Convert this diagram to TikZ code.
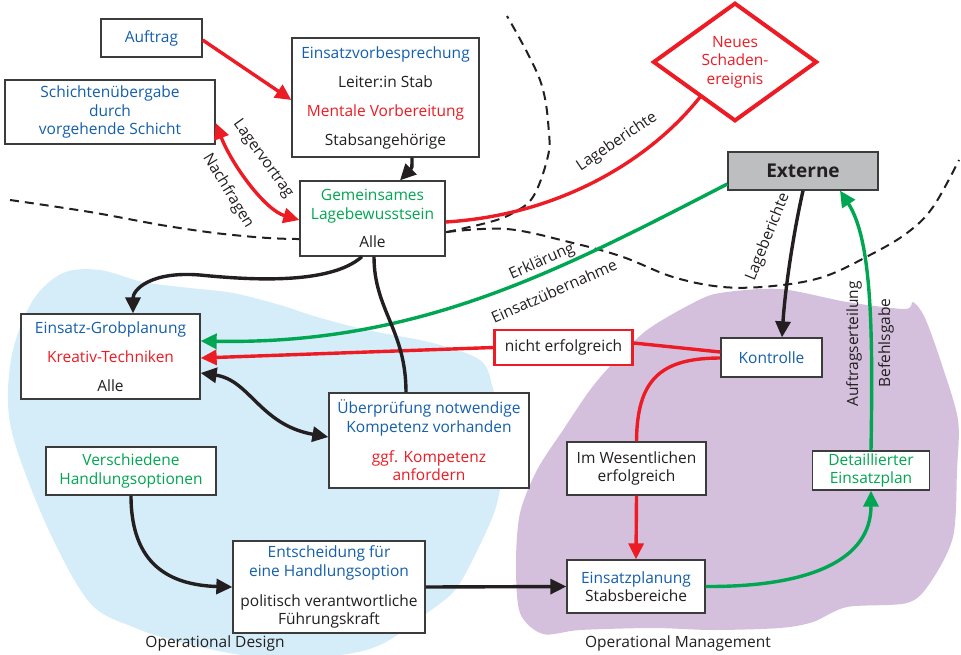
\documentclass[tikz,border=0pt]{standalone}
\usepackage{fontspec}
\setmainfont{Open Sans}
\usetikzlibrary{arrows.meta,shapes.geometric}
\definecolor{tblue}{RGB}{20,95,172}
\definecolor{tred}{RGB}{237,28,36}
\definecolor{tgreen}{RGB}{0,166,81}
\definecolor{tblack}{RGB}{35,31,32}
\definecolor{boxgray}{RGB}{60,60,60}
\definecolor{extgray}{RGB}{188,190,192}
\definecolor{lblue}{RGB}{213,236,249}
\definecolor{lpurple}{RGB}{212,192,221}
\newcommand{\txtb}[1]{\textcolor{tblue}{#1}}
\newcommand{\txtr}[1]{\textcolor{tred}{#1}}
\newcommand{\txtg}[1]{\textcolor{tgreen}{#1}}
\begin{document}
\begin{tikzpicture}[x=1pt,y=-1pt,
  every node/.style={text=tblack},
  base/.style={font=\fontsize{15.5}{18.5}\selectfont},
  box/.style={base,draw=boxgray,line width=1.3pt,fill=white,align=center,inner sep=0pt},
  con/.style={line width=3.4pt},
  tip/.style={-{Triangle[length=16pt,width=15pt]}},
  dtip/.style={{Triangle[length=16pt,width=15pt]}-{Triangle[length=16pt,width=15pt]}},
  lbl/.style={base,inner sep=0pt},
  bnd/.style={line width=2pt,dash pattern=on 9pt off 6pt,tblack}]
\useasboundingbox (0,0) rectangle (961,654);

% regions
\fill[lblue] plot[smooth cycle,tension=0.55] coordinates {
 (100,270) (143,282) (190,288) (233,293) (280,305) (317,317) (367,330) (433,343)
 (480,360) (492,385) (498,420) (502,470) (495,510) (475,555) (455,590) (427,613)
 (380,645) (330,656) (250,656) (180,642) (133,627) (90,603) (50,533) (17,450)
 (8,403) (13,350) (33,300) (63,273)};
\fill[lpurple] plot[smooth cycle,tension=0.5] coordinates {
 (720,293) (780,289) (847,302) (905,309) (913,302) (925,318) (942,365) (958,420)
 (957,470) (953,537) (930,583) (907,603) (847,607) (813,622) (780,628) (713,630)
 (653,628) (580,630) (543,634) (520,613) (516,563) (520,513) (537,470) (563,430)
 (590,390) (613,363) (647,330) (693,303)};

% dashed boundaries
\draw[bnd] plot[smooth,tension=0.6] coordinates {(10,200) (90,212) (167,226) (233,235) (297,239) (370,236) (447,232)};
\draw[bnd] plot[smooth,tension=0.6] coordinates {(447,232) (490,222) (513,213) (533,197) (547,160) (549,133) (540,80) (507,16)};
\draw[bnd] plot[smooth,tension=0.6] coordinates {(447,232) (507,229) (573,243) (623,257) (673,277) (723,287) (773,286) (823,277) (870,255) (907,233) (933,207) (959,160)};

\node[base] at (215,643) {Operational Design};
\node[base] at (678,643) {Operational Management};

% nodes
\node[box,minimum width=101pt,minimum height=38pt] (auftrag) at (151.5,38) {\txtb{Auftrag}};
\node[box,minimum width=187pt,minimum height=119pt] (evb) at (385.5,97.5)
 {\txtb{Einsatzvorbesprechung}\\[10.5pt] Leiter:in Stab\\[10.5pt] \txtr{Mentale Vorbereitung}\\[10.5pt] Stabsangehörige};
\node[box,minimum width=210pt,minimum height=64pt] (schicht) at (110,112)
 {\txtb{Schichtenübergabe}\\ \txtb{durch}\\ \txtb{vorgehende Schicht}};
\node[box,minimum width=145pt,minimum height=75pt] (gem) at (372.5,218.5)
 {\txtg{Gemeinsames}\\ \txtg{Lagebewusstsein}\\[9.5pt] Alle};
\node[diamond,base,draw=tred,line width=4pt,fill=white,minimum width=164pt,minimum height=114pt,inner sep=0pt,align=center] (neu) at (735,62)
 {\txtr{Neues}\\ \txtr{Schaden-}\\ \txtr{ereignis}};
\node[box,fill=extgray,minimum width=150pt,minimum height=38pt,font=\bfseries\fontsize{19}{22}\selectfont] (ext) at (803,171) {Externe};
\node[box,minimum width=179pt,minimum height=85pt] (egp) at (110.5,356.5)
 {\txtb{Einsatz-Grobplanung}\\[10.5pt] \txtr{Kreativ-Techniken}\\[10.5pt] Alle};
\node[box,draw=tred,line width=2.5pt,minimum width=138pt,minimum height=35pt] (nef) at (563.5,347.5) {nicht erfolgreich};
\node[box,minimum width=101pt,minimum height=39pt] (kon) at (771.5,357.5) {\txtb{Kontrolle}};
\node[box,minimum width=200pt,minimum height=95pt] (uep) at (429,440.5)
 {\txtb{Überprüfung notwendige}\\ \txtb{Kompetenz vorhanden}\\[11.5pt] \txtr{ggf. Kompetenz}\\ \txtr{anfordern}};
\node[box,minimum width=170pt,minimum height=48pt] (ver) at (131,471)
 {\txtg{Verschiedene}\\ \txtg{Handlungsoptionen}};
\node[box,minimum width=139pt,minimum height=53pt] (imw) at (636.5,468.5)
 {Im Wesentlichen\\ erfolgreich};
\node[box,minimum width=117pt,minimum height=39pt] (det) at (871,470.5)
 {\txtg{Detaillierter}\\ \txtg{Einsatzplan}};
\node[box,minimum width=192pt,minimum height=92pt] (ent) at (329,587)
 {\txtb{Entscheidung für}\\ \txtb{eine Handlungsoption}\\[11.5pt] politisch verantwortliche\\ Führungskraft};
\node[box,minimum width=138pt,minimum height=53pt] (esp) at (636,586.5)
 {\txtb{Einsatzplanung}\\ Stabsbereiche};

% connectors
\draw[con,tred,tip] ([yshift=-2pt]auftrag.east) -- ([yshift=-2.5pt]evb.west);
\draw[con,tred,dtip] ([yshift=-11pt]schicht.east) .. controls (232,165) and (265,210) .. ([yshift=-1.5pt]gem.west);
\node[lbl,rotate=-54.5] at (263,159) {Lagervortrag};
\node[lbl,rotate=-58.7] at (228,191) {Nachfragen};
\draw[con,tblack,tip] ([xshift=26.5pt]evb.south) .. controls (412,168) .. ([xshift=27.5pt]gem.north);
\draw[con,tred] ([yshift=-3.5pt]gem.east) .. controls (560,215) and (650,160) .. ([xshift=7pt,yshift=-4.5pt]neu.south west);
\node[lbl,rotate=34] at (617,142) {Lageberichte};
\draw[con,tgreen,tip] ([yshift=-13pt]ext.west) .. controls (560,270) and (420,345) .. ([yshift=15.5pt]egp.east);
\node[lbl,rotate=24] at (542,262) {Erklärung};
\node[lbl,rotate=24] at (554,291) {Einsatzübernahme};
\draw[con,tblack,tip] (ext.south) .. controls (793,235) and (785,290) .. ([xshift=10.5pt]kon.north);
\node[lbl,rotate=68] at (768,237) {Lageberichte};
\draw[con,tgreen,tip] (det.north) .. controls (873,330) and (872,240) .. ([xshift=37pt]ext.south);
\node[lbl,rotate=90] at (854,344) {Auftragserteilung};
\node[lbl,rotate=90] at (886,343) {Befehlsgabe};
\draw[con,tred] ([yshift=5.5pt]kon.west) -- ([yshift=4.5pt]nef.east);
\draw[con,tred,tip] (nef.west) -- ([yshift=-1.5pt]egp.east);
\draw[con,tred] ([yshift=-0.5pt]kon.west) .. controls (660,358) and (637,380) .. (imw.north);
\draw[con,tred,tip] (imw.south) -- (esp.north);
\draw[con,tblack,tip] ([xshift=-10.5pt]gem.south) .. controls (330,285) and (250,280) .. (200,275) .. controls (150,271) and (133,290) .. ([xshift=22.5pt]egp.north);
\draw[con,tblack] ([xshift=1.5pt]gem.south) .. controls (374,310) and (406,330) .. ([xshift=-23pt]uep.north);
\draw[con,tblack,dtip] ([yshift=-16.5pt]egp.east) .. controls (250,380) and (260,425) .. ([yshift=3.5pt]uep.west);
\draw[con,tblack,tip] (ver.south) .. controls (131,565) and (170,585) .. (ent.west);
\draw[con,tblack,tip] (ent.east) -- (esp.west);
\draw[con,tgreen,tip] (esp.east) .. controls (810,587) and (871,560) .. (det.south);
\end{tikzpicture}
\end{document}
